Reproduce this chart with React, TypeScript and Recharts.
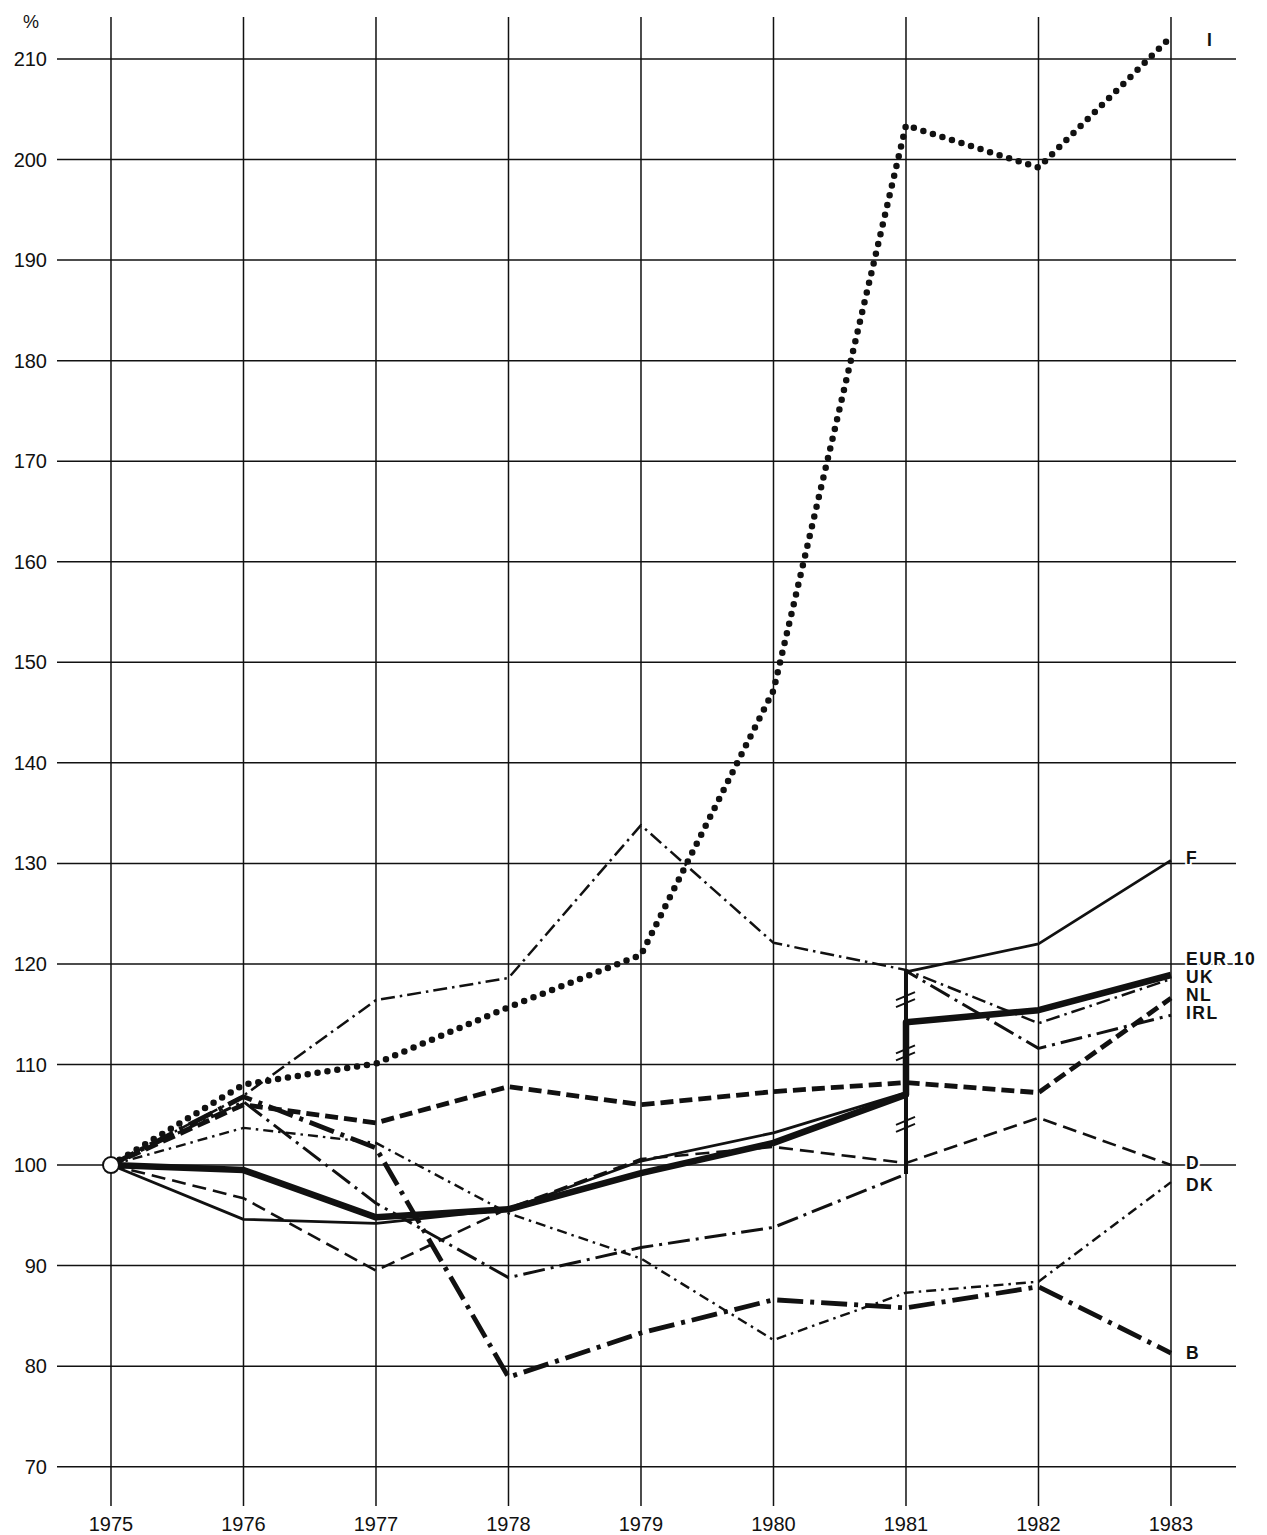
import React from "react";
import { CartesianGrid, Line, LineChart, ReferenceDot, ReferenceLine, XAxis, YAxis } from "recharts";

const years = [1975, 1976, 1977, 1978, 1979, 1980, 1981, 1982, 1983];
const yTicks = [70, 80, 90, 100, 110, 120, 130, 140, 150, 160, 170, 180, 190, 200, 210];

// index 6 (1981) holds the value before the series break
const italy = [100, 108, 110.1, 115.7, 120.9, 147.2, 203.4, 199.2, 212.2];
const france = [100, 94.6, 94.2, 95.6, 100.4, 103.2, 107.2, 122.0, 130.3];
const eur10 = [100, 99.5, 94.8, 95.6, 99.2, 102.2, 107.0, 115.4, 118.9];
const uk = [100, 106.9, 116.4, 118.6, 133.8, 122.1, 119.4, 114.1, 118.5];
const netherlands = [100, 106.0, 104.2, 107.8, 106.0, 107.3, 108.2, 107.2, 116.6];
const ireland = [100, 106.3, 96.2, 88.8, 91.8, 93.8, 99.1, 111.6, 114.9];
const germany = [100, 96.7, 89.5, 95.7, 100.6, 101.8, 100.2, 104.7, 100.0];
const denmark = [100, 103.7, 102.2, 95.2, 90.7, 82.6, 87.3, 88.4, 98.3];
const belgium = [100, 106.8, 101.7, 78.9, 83.3, 86.6, 85.8, 87.9, 81.3];

// values after the 1981 break
const franceAfterBreak = 119.2;
const eur10AfterBreak = 114.2;
const irelandAfterBreak = 119.3;

const breakRange = [99.1, 119.4];
const breakMarks = [116.5, 111.2, 104.1];

const labelNames = ["I", "F", "EUR 10", "UK", "NL", "IRL", "D", "DK", "B"];
const labelAt = [211.9, 130.5, 120.5, 118.7, 116.9, 115.1, 100.2, 98.0, 81.3];

const INK = "#111";
const FONT = "'Liberation Sans', Arial, Helvetica, sans-serif";

function points(values: number[], afterBreak?: number) {
  const pts = values.map((v, i) => ({ x: years[i], y: v }));
  if (afterBreak !== undefined) pts.splice(7, 0, { x: 1981, y: afterBreak });
  return pts;
}

const series = [
  { key: "I", data: points(italy), dash: "0 10", width: 6.5, cap: "round" },
  { key: "B", data: points(belgium), dash: "26 7 4 7", width: 4.8 },
  { key: "DK", data: points(denmark), dash: "10 5 2.5 5", width: 2.4 },
  { key: "D", data: points(germany), dash: "14 7", width: 2.6 },
  { key: "IRL", data: points(ireland, irelandAfterBreak), dash: "22 6 3 6", width: 3 },
  { key: "UK", data: points(uk), dash: "14 5 2.5 5", width: 2.5 },
  { key: "NL", data: points(netherlands), dash: "13 6", width: 4.8 },
  { key: "F", data: points(france, franceAfterBreak), width: 2.8 },
  { key: "EUR 10", data: points(eur10, eur10AfterBreak), width: 6.5 },
];

const BreakMark = (props: any) => {
  const { cx, cy } = props;
  return (
    <g stroke={INK} strokeWidth={2}>
      <line x1={cx - 10} y1={cy + 1} x2={cx + 9} y2={cy - 7} />
      <line x1={cx - 10} y1={cy + 8} x2={cx + 9} y2={cy} />
    </g>
  );
};

const EndLabel = (text: string) => (props: any) => (
  <text
    x={props.cx + (text === "I" ? 36 : 15)}
    y={props.cy}
    dominantBaseline="central"
    fontFamily={FONT}
    fontWeight="bold"
    fontSize={17.5}
    letterSpacing={1.5}
    fill={INK}
    stroke="#fff"
    strokeWidth={4}
    style={{ paintOrder: "stroke" }}
  >
    {text}
  </text>
);

export default function App() {
  return (
    <div style={{ position: "absolute", left: 0, top: 0, width: 1267, height: 1535, background: "#fff" }}>
      <div style={{ position: "absolute", left: 23, top: 12, fontFamily: FONT, fontSize: 18, color: INK }}>%</div>
      <LineChart width={1267} height={1535} margin={{ top: 17, right: 31, bottom: 0, left: 0 }}>
        <CartesianGrid stroke={INK} strokeWidth={1.5} syncWithTicks />
        <XAxis
          type="number"
          dataKey="x"
          domain={[1974.5925, 1983.4906]}
          ticks={years}
          allowDataOverflow
          axisLine={false}
          tickLine={false}
          tickSize={0}
          tickMargin={11}
          height={29}
          tick={{ fill: INK, fontSize: 20, fontFamily: FONT }}
        />
        <YAxis
          type="number"
          dataKey="y"
          domain={[66.09, 214.177]}
          ticks={yTicks}
          allowDataOverflow
          axisLine={false}
          tickLine={false}
          tickSize={0}
          tickMargin={10}
          width={57}
          tick={{ fill: INK, fontSize: 20, fontFamily: FONT }}
        />
        {series.map((s) => (
          <Line
            key={s.key}
            data={s.data}
            dataKey="y"
            type="linear"
            stroke={INK}
            strokeWidth={s.width}
            strokeDasharray={s.dash}
            strokeLinecap={(s.cap as any) || "butt"}
            strokeLinejoin="round"
            dot={false}
            activeDot={false}
            isAnimationActive={false}
          />
        ))}
        <ReferenceLine
          segment={[
            { x: 1981, y: breakRange[0] },
            { x: 1981, y: breakRange[1] },
          ]}
          stroke={INK}
          strokeWidth={4}
        />
        {breakMarks.map((v) => (
          <ReferenceDot key={v} x={1981} y={v} r={0} shape={BreakMark} />
        ))}
        {labelNames.map((name, i) => (
          <ReferenceDot key={name} x={1983} y={labelAt[i]} r={0} shape={EndLabel(name)} />
        ))}
        <Line
          data={[{ x: years[0], y: italy[0] }]}
          dataKey="y"
          stroke="none"
          dot={{ r: 8, fill: "#fff", stroke: INK, strokeWidth: 2 }}
          activeDot={false}
          isAnimationActive={false}
        />
      </LineChart>
    </div>
  );
}
